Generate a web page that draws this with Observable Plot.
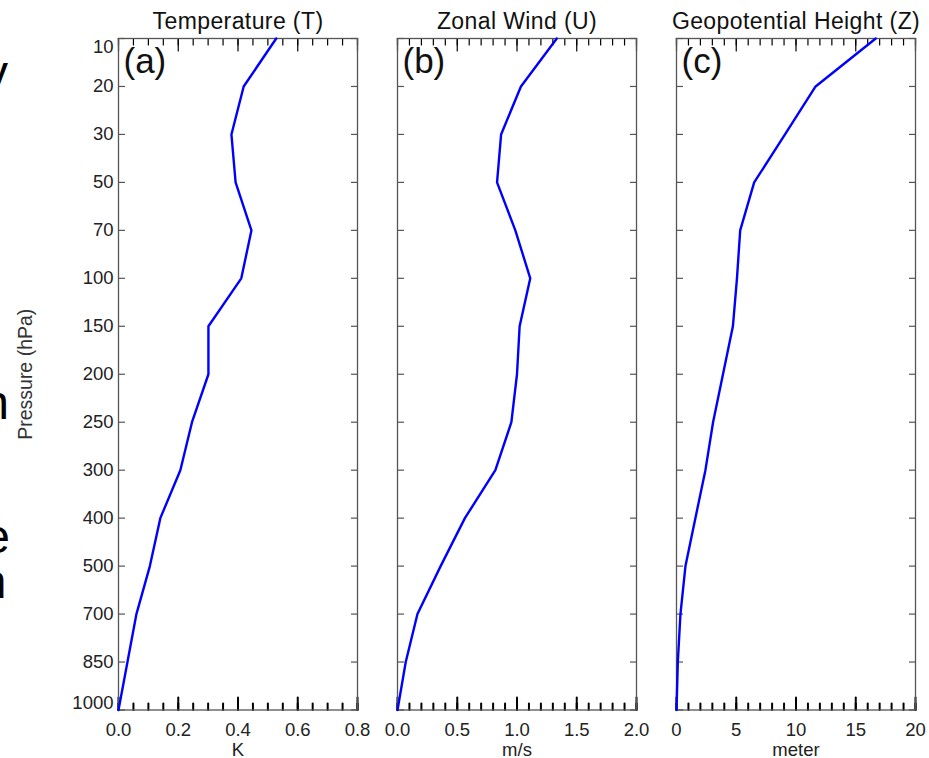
<!DOCTYPE html>
<html>
<head>
<meta charset="utf-8">
<script src="https://cdn.jsdelivr.net/npm/d3@7"></script>
<script src="https://cdn.jsdelivr.net/npm/@observablehq/plot@0.6"></script>
<style>
  html, body { margin: 0; padding: 0; background: #ffffff; overflow: hidden; }
  #wrap { position: relative; width: 929px; height: 758px; overflow: hidden; background: #ffffff;
          font-family: "Liberation Sans", Arial, Helvetica, sans-serif; }
  #wrap svg { position: absolute; top: 0; }
  .frag { position: absolute; font-size: 48px; line-height: 30px; color: #000; white-space: nowrap; }
</style>
</head>
<body>
<div id="wrap"></div>
<script>
// ---- data ----
const levels = [10, 20, 30, 50, 70, 100, 150, 200, 250, 300, 400, 500, 700, 850, 1000];
const tempT   = [0.528, 0.419, 0.378, 0.392, 0.445, 0.411, 0.301, 0.301, 0.246, 0.207, 0.140, 0.105, 0.060, 0.030, 0.0];
const windU   = [1.333, 1.033, 0.867, 0.833, 0.986, 1.111, 1.022, 1.000, 0.953, 0.819, 0.564, 0.361, 0.167, 0.069, 0.0];
const heightZ = [16.67, 11.64, 9.08, 6.50, 5.33, 5.06, 4.72, 3.89, 3.06, 2.42, 1.58, 0.75, 0.33, 0.11, 0.0];

const titles = ["Temperature (T)", "Zonal Wind (U)", "Geopotential Height (Z)"];
const panelTags = ["(a)", "(b)", "(c)"];
const units = ["K", "m/s", "meter"];
const xDomains = [[0, 0.8], [0, 2], [0, 20]];
const majorTicks = [[0, 0.2, 0.4, 0.6, 0.8], [0, 0.5, 1.0, 1.5, 2.0], [0, 5, 10, 15, 20]];
const minorSteps = [0.05, 0.1, 1];
const tickFormats = [d3.format(".1f"), d3.format(".1f"), d3.format("d")];
const yLabel = "Pressure (hPa)";
const slideFragments = ["y", "n", "e", "n"];

// ---- layout ----
const H = 758, marginTop = 38, marginBottom = 48.5;
const panels = [
  {left: 0,   width: 380, ml: 118, mr: 23},
  {left: 357, width: 300, ml: 40,  mr: 21},
  {left: 636, width: 293, ml: 40,  mr: 14}
];
const series = [tempT, windU, heightZ];
const gray = "#555555";
const font = "'Liberation Sans', Arial, Helvetica, sans-serif";
const noText = () => "";
const upShape = {draw(c, l) { c.moveTo(0, 0); c.lineTo(0, -l); }};
const downShape = {draw(c, l) { c.moveTo(0, 0); c.lineTo(0, l); }};
const topLevel = levels[0];
const bottomLevel = levels[levels.length - 1];

const wrap = document.getElementById("wrap");

panels.forEach((pn, i) => {
  const rows = levels.map((p, j) => ({p, v: series[i][j]}));
  const [d0, d1] = xDomains[i];
  const minor = d3.range(d0, d1 + minorSteps[i] / 2, minorSteps[i]).map(v => +v.toFixed(6));
  const marks = [
    // inward x ticks: top (pointing down) and bottom (pointing up)
    Plot.vector(minor, {x: d => d, y: () => topLevel, length: 6.5, shape: downShape,
      anchor: "start", stroke: "black", strokeWidth: 1.2}),
    Plot.vector(majorTicks[i], {x: d => d, y: () => topLevel, length: 12.5, shape: downShape,
      anchor: "start", stroke: "black", strokeWidth: 1.2}),
    Plot.vector(minor, {x: d => d, y: () => bottomLevel, length: 6.5, shape: upShape,
      anchor: "start", stroke: "black", strokeWidth: 2}),
    Plot.vector(majorTicks[i], {x: d => d, y: () => bottomLevel, length: 12.5, shape: upShape,
      anchor: "start", stroke: "black", strokeWidth: 2}),
    // inward y ticks on left and right
    Plot.axisY({stroke: gray, strokeWidth: 1.2, tickFormat: noText, label: null, tickPadding: 0,
      anchor: "right", frameAnchor: "left", ticks: levels, tickSize: 6}),
    Plot.axisY({stroke: gray, strokeWidth: 1.2, tickFormat: noText, label: null, tickPadding: 0,
      anchor: "left", frameAnchor: "right", ticks: levels, tickSize: 6}),
    Plot.frame({stroke: gray, strokeWidth: 1.3}),
    // profile line
    Plot.line(rows, {x: "v", y: "p", stroke: "#0000ff", strokeWidth: 2.4}),
    // x tick labels
    Plot.text(majorTicks[i], {x: d => d, text: d => tickFormats[i](d), frameAnchor: "bottom",
      textAnchor: "middle", lineAnchor: "top", dy: 12.5, fontSize: 18.5, fill: "#222"}),
    // unit label
    Plot.text([units[i]], {text: d => d, frameAnchor: "bottom", textAnchor: "middle",
      lineAnchor: "bottom", dy: 45.5, fontSize: 18.5, fill: "#222"}),
    // title
    Plot.text([titles[i]], {text: d => d, frameAnchor: "top", textAnchor: "middle",
      lineAnchor: "bottom", dy: -9.5, fontSize: 23, fill: "#111"}),
    // panel tag
    Plot.text([panelTags[i]], {text: d => d, frameAnchor: "top-left", textAnchor: "start",
      lineAnchor: "bottom", dx: 5, dy: 34, fontSize: 35, fill: "#111"})
  ];
  if (i === 0) {
    marks.push(
      Plot.text([topLevel], {y: d => d, text: d => String(d), frameAnchor: "left", textAnchor: "end",
        lineAnchor: "top", dx: -5, dy: 1, fontSize: 18.5, fill: "#222"}),
      Plot.text(levels.slice(1, -1), {y: d => d, text: d => String(d), frameAnchor: "left", textAnchor: "end",
        lineAnchor: "middle", dx: -5, fontSize: 18.5, fill: "#222"}),
      Plot.text([bottomLevel], {y: d => d, text: d => String(d), frameAnchor: "left", textAnchor: "end",
        lineAnchor: "bottom", dx: -5, dy: -1, fontSize: 18.5, fill: "#222"}),
      Plot.text([yLabel], {text: d => d, frameAnchor: "left", textAnchor: "middle", rotate: -90,
        lineAnchor: "bottom", dx: -86.5, fontSize: 19.5, fill: "#333"})
    );
  }
  const svg = Plot.plot({
    width: pn.width,
    height: H,
    marginLeft: pn.ml,
    marginRight: pn.mr,
    marginTop,
    marginBottom,
    style: {fontFamily: font, background: "transparent", overflow: "visible", maxWidth: "none"},
    x: {domain: xDomains[i], axis: null},
    y: {type: "point", domain: levels, padding: 0, round: false, axis: null},
    marks
  });
  svg.style.left = pn.left + "px";
  d3.select(svg).selectAll("text")
    .filter(function () { return titles.includes(this.textContent); })
    .attr("letter-spacing", "0.4");
  wrap.appendChild(svg);
});

// cropped slide text at the left edge
const fragPos = [
  {end: 8, base: 89},
  {end: 9, base: 419},
  {end: 10, base: 553},
  {end: 6.5, base: 598}
];
slideFragments.forEach((t, k) => {
  const s = document.createElement("span");
  s.className = "frag";
  s.textContent = t;
  s.style.right = (929 - fragPos[k].end) + "px";
  s.style.top = (fragPos[k].base - 31.4) + "px";
  wrap.appendChild(s);
});
</script>
</body>
</html>
